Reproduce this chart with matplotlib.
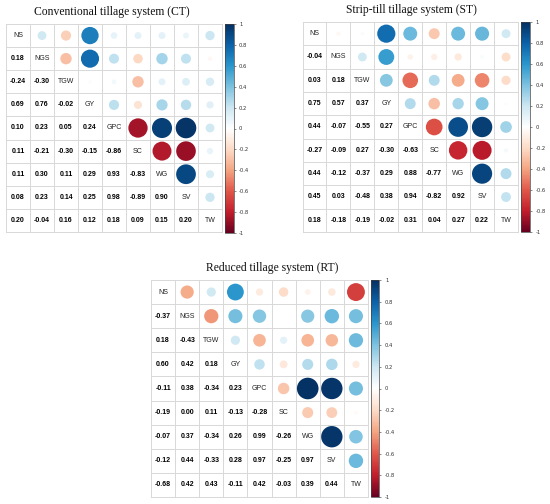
import numpy as np
import matplotlib
matplotlib.use('Agg')
import matplotlib.pyplot as plt
from matplotlib.colors import LinearSegmentedColormap, Normalize
from matplotlib.cm import ScalarMappable
from matplotlib.patches import Ellipse

labels = ['NS', 'NGS', 'TGW', 'GY', 'GPC', 'SC', 'WG', 'SV', 'TW']

# lower triangle, row by row (row i has i values)
ct_lower = [
    [],
    [0.18],
    [-0.24, -0.30],
    [0.69, 0.76, -0.02],
    [0.10, 0.23, 0.05, 0.24],
    [0.11, -0.21, -0.30, -0.15, -0.86],
    [0.11, 0.30, 0.11, 0.29, 0.93, -0.83],
    [0.08, 0.23, 0.14, 0.25, 0.98, -0.89, 0.90],
    [0.20, -0.04, 0.16, 0.12, 0.18, 0.09, 0.15, 0.20],
]
st_lower = [
    [],
    [-0.04],
    [0.03, 0.18],
    [0.75, 0.57, 0.37],
    [0.44, -0.07, -0.55, 0.27],
    [-0.27, -0.09, 0.27, -0.30, -0.63],
    [0.44, -0.12, -0.37, 0.29, 0.88, -0.77],
    [0.45, 0.03, -0.48, 0.38, 0.94, -0.82, 0.92],
    [0.18, -0.18, -0.19, -0.02, 0.31, 0.04, 0.27, 0.22],
]
rt_lower = [
    [],
    [-0.37],
    [0.18, -0.43],
    [0.60, 0.42, 0.18],
    [-0.11, 0.38, -0.34, 0.23],
    [-0.19, 0.00, 0.11, -0.13, -0.28],
    [-0.07, 0.37, -0.34, 0.26, 0.99, -0.26],
    [-0.12, 0.44, -0.33, 0.28, 0.97, -0.25, 0.97],
    [-0.68, 0.42, 0.43, -0.11, 0.42, -0.03, 0.39, 0.44],
]

titles = ['Conventional tillage system (CT)',
          'Strip-till tillage system (ST)',
          'Reduced tillage system (RT)']
cbar_ticks = [-1, -0.8, -0.6, -0.4, -0.2, 0, 0.2, 0.4, 0.6, 0.8, 1]
cbar_labels = ['-1', '-0.8', '-0.6', '-0.4', '-0.2', '0', '0.2', '0.4', '0.6', '0.8', '1']

cmap = LinearSegmentedColormap.from_list('corr', [
    '#67001F', '#C21E2C', '#E0584A', '#F4A582', '#FDDBC7', '#FFFFFF',
    '#CDE7F2', '#7DC2E0', '#2A96CC', '#0C62A8', '#053061'])
norm = Normalize(-1, 1)

W, H = 550, 504
fig = plt.figure(figsize=(W / 100, H / 100), dpi=100)


def to_matrix(lower):
    n = len(labels)
    m = np.eye(n)
    for i, row in enumerate(lower):
        for j, v in enumerate(row):
            m[i, j] = v
            m[j, i] = v
    return m


def px_axes(x0, y0, x1, y1):
    return fig.add_axes([x0 / W, 1 - y1 / H, (x1 - x0) / W, (y1 - y0) / H])


def corr_panel(lower, title, grid_box, cbar_box, title_xy):
    m = to_matrix(lower)
    n = len(labels)
    x0, y0, x1, y1 = grid_box
    cw = (x1 - x0) / n
    ch = (y1 - y0) / n
    ax = px_axes(*grid_box)
    ax.set_xlim(0, n)
    ax.set_ylim(n, 0)
    ax.axis('off')
    for k in range(n + 1):
        ax.plot([k, k], [0, n], color='#d8d8d8', lw=0.7, zorder=1, clip_on=False)
        ax.plot([0, n], [k, k], color='#d8d8d8', lw=0.7, zorder=1, clip_on=False)
    for i in range(n):
        for j in range(n):
            v = m[i, j]
            if i == j:
                ax.text(j + 0.5, i + 0.5, labels[i], ha='center', va='center',
                        fontsize=5, color='#222222', family='Liberation Sans')
            elif j < i:
                ax.text(j + 0.5, i + 0.5, f'{v:.2f}', ha='center', va='center',
                        fontsize=5, fontweight='bold', color='black',
                        family='Liberation Sans')
            else:
                r_px = 0.45 * np.sqrt(abs(v)) * min(cw, ch)
                if r_px <= 0:
                    continue
                ax.add_patch(Ellipse((j + 0.5, i + 0.5), 2 * r_px / cw, 2 * r_px / ch,
                                     facecolor=cmap(norm(v)), edgecolor='none', zorder=2))
    cax = px_axes(*cbar_box)
    cb = fig.colorbar(ScalarMappable(norm=norm, cmap=cmap), cax=cax, ticks=cbar_ticks)
    cb.ax.set_yticklabels(cbar_labels)
    cb.outline.set_linewidth(0.5)
    cb.outline.set_edgecolor('#444444')
    cb.ax.tick_params(labelsize=3.8, length=1.5, width=0.4, pad=2.5,
                      colors='#333333')
    fig.text(title_xy[0] / W, 1 - title_xy[1] / H, title, ha='center', va='center',
             fontsize=8.4, family='Liberation Serif', color='#111111')


corr_panel(ct_lower, titles[0], (6, 24, 222, 232), (225, 24, 233.5, 233), (112, 11.5))
corr_panel(st_lower, titles[1], (302.5, 22, 518, 232), (521, 22, 530, 232), (411, 10))
corr_panel(rt_lower, titles[2], (151, 280, 368, 497), (370.5, 280, 379.5, 497), (272, 268))

fig.savefig('out.png', dpi=100)
